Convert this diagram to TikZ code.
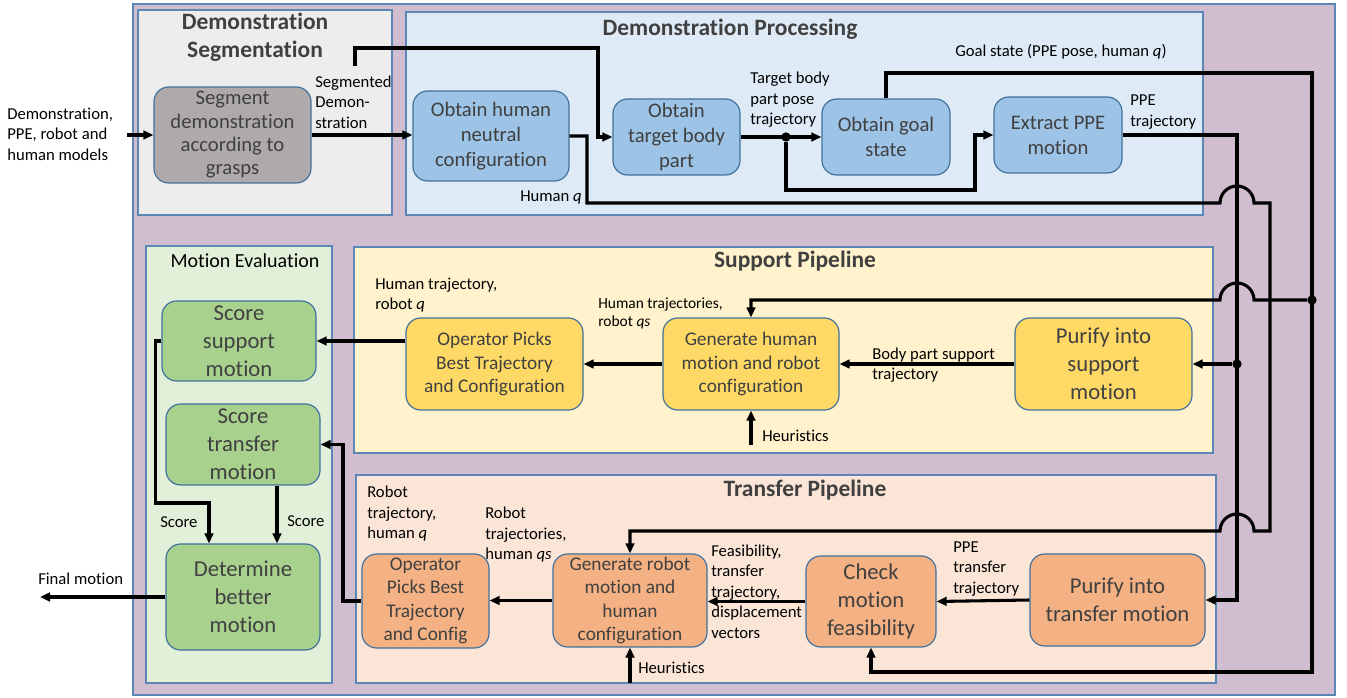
\documentclass[tikz,border=0pt]{standalone}
\usepackage{fontspec}
\setmainfont{Carlito}[RawFeature=-liga]
\usetikzlibrary{arrows.meta,calc}

\definecolor{outerfill}{HTML}{D0BED0}
\definecolor{panelline}{HTML}{5B86B5}
\definecolor{boxline}{HTML}{41719C}
\definecolor{txt}{HTML}{404040}
\definecolor{segpanel}{HTML}{EDEDED}
\definecolor{procpanel}{HTML}{DEEBF7}
\definecolor{evalpanel}{HTML}{E2F0D9}
\definecolor{suppanel}{HTML}{FFF2CC}
\definecolor{trapanel}{HTML}{FBE5D6}
\definecolor{graybox}{HTML}{AEAAAA}
\definecolor{bluebox}{HTML}{9DC3E6}
\definecolor{yellowbox}{HTML}{FFD966}
\definecolor{greenbox}{HTML}{A9D18E}
\definecolor{orangebox}{HTML}{F4B183}

\newcommand\txtM{\fontsize{15.5}{18.8}\selectfont}
\newcommand\txtSeg{\fontsize{15.5}{17.5}\selectfont}
\newcommand\txtL{\fontsize{17}{21}\selectfont}
\newcommand\txtS{\fontsize{14.5}{17.6}\selectfont}
\newcommand\txtLab{\fontsize{12.5}{15.4}\selectfont}
\newcommand\txtLabS{\fontsize{11.6}{13.5}\selectfont}
\newcommand\txtHead{\fontsize{15}{18}\selectfont}
\newcommand\txtTitle{\fontsize{17.6}{21}\selectfont\bfseries}

\begin{document}
\begin{tikzpicture}[x=0.75pt,y=-0.75pt,
  panel/.style={draw=panelline, line width=0.8pt},
  box/.style={rounded corners=11pt, draw=boxline, line width=0.9pt,
    align=center, inner sep=0pt, text=txt},
  sz/.style 2 args={minimum width=#1*0.75pt, minimum height=#2*0.75pt},
  wire/.style={line width=2.3pt},
  arr/.style={wire, -{Triangle[length=7.5pt,width=6.5pt]}},
  lab/.style={align=left, inner sep=0pt, font=\txtLab, anchor=west},
  title/.style={font=\txtTitle, text=txt, align=center, inner sep=0pt},
  junction/.style={circle, fill=black, inner sep=0pt, minimum size=7pt}]
\useasboundingbox (0,0) rectangle (1347,698);

% panels
\filldraw[panel, fill=outerfill] (133,4) rectangle (1335,695);
\filldraw[panel, fill=segpanel] (138,10) rectangle (392,215);
\filldraw[panel, fill=procpanel] (406,12) rectangle (1203,215);
\filldraw[panel, fill=evalpanel] (146,246) rectangle (332,683);
\filldraw[panel, fill=suppanel] (354,247) rectangle (1213,453);
\filldraw[panel, fill=trapanel] (356,475) rectangle (1216,683);

% panel titles
\node[title] at (255,37) {Demonstration\\Segmentation};
\node[title] at (730,29) {Demonstration Processing};
\node[title] at (795,261) {Support Pipeline};
\node[title] at (805,490) {Transfer Pipeline};
\node[font=\txtHead, text=black, inner sep=0pt] at (245,261) {Motion Evaluation};

% process blocks
\node[box, fill=graybox, sz={157}{96}, font=\txtSeg] (seg) at (232.5,135) {Segment\\demonstration\\according to\\grasps};
\node[box, fill=bluebox, sz={156}{90}, font=\txtM] (hn) at (491,136) {Obtain human\\neutral\\configuration};
\node[box, fill=bluebox, sz={127}{76}, font=\txtM] (tb) at (676.5,137) {Obtain\\target body\\part};
\node[box, fill=bluebox, sz={128}{76}, font=\txtM] (gs) at (886,137) {Obtain goal\\state};
\node[box, fill=bluebox, sz={128}{76}, font=\txtM] (ex) at (1058,135) {Extract PPE\\motion};

\node[box, fill=yellowbox, sz={177}{92}, font=\txtL] (ps) at (1103.5,364) {Purify into\\support\\motion};
\node[box, fill=yellowbox, sz={176}{92}, font=\txtS] (gh) at (751,364) {Generate human\\motion and robot\\configuration};
\node[box, fill=yellowbox, sz={177}{92}, font=\txtS] (op1) at (494.5,364) {Operator Picks\\Best Trajectory\\and Configuration};

\node[box, fill=greenbox, sz={154}{80}, font=\txtL] (ss) at (239,341) {Score\\support\\motion};
\node[box, fill=greenbox, sz={154}{81}, font=\txtL] (st) at (243,444.5) {Score\\transfer\\motion};
\node[box, fill=greenbox, sz={154}{106}, font=\txtL] (db) at (243,597) {Determine\\better\\motion};

\node[box, fill=orangebox, sz={175}{92}, font=\txtL] (pt) at (1117.5,600) {Purify into\\transfer motion};
\node[box, fill=orangebox, sz={130}{91}, font=\txtL] (cm) at (871,601.5) {Check\\motion\\feasibility};
\node[box, fill=orangebox, sz={154}{93}, font=\txtS] (gr) at (630,600.5) {Generate robot\\motion and\\human\\configuration};
\node[box, fill=orangebox, sz={127}{94}, font=\txtS] (op2) at (425.5,601) {Operator\\Picks Best\\Trajectory\\and Config};

% free ends and junctions
\coordinate (inp) at (127,135);
\coordinate (sdtap) at (355,66);
\coordinate (heur1) at (751,445);
\coordinate (heur2) at (630,683);
\coordinate (final) at (40,597);
\node[junction] (jt) at (786,137) {};
\node[junction] (jg) at (1312,300) {};
\node[junction] (jp) at (1237,364) {};

% demonstration processing
\draw[arr] (inp) -- (seg.west);
\draw[arr] (seg.east) -- (seg.east -| hn.west);
\draw[arr] (sdtap) |- (598,48) |- (tb.west);
\draw[arr] (tb.east) -- (gs.west);
\draw[arr] (jt) |- (975,190) |- (ex.west);

% goal state feed
\draw[arr] (gs.north) |- (1312,73) |- (871,672) -- (cm.south);
\draw[arr] (jg) -- (1254,300) arc[start angle=0,end angle=-180,radius=17] -| (gh.north);

% PPE trajectory feed
\draw[arr] (ex.east) -- (1237,135) |- (pt.east);
\draw[arr] (jp) -- (ps.east);

% human q feed
\draw[arr] (hn.east) -- (587,136) |- (1220,203)
  arc[start angle=180,end angle=360,radius=17] -- (1270,203) |- (1254,531)
  arc[start angle=0,end angle=-180,radius=17] -| (gr.north);

% support pipeline
\draw[arr] (ps.west) -- (gh.east);
\draw[arr] (heur1) -- (gh.south);
\draw[arr] (gh.west) -- (op1.east);
\draw[arr] (op1.west |- ss.east) -- (ss.east);

% motion evaluation
\draw[arr] (ss.west) -- ++(-6,0) |- (209,503) -- ([xshift=-25.5pt]db.north);
\draw[arr] ([xshift=25.5pt]st.south) -- ([xshift=25.5pt]db.north);
\draw[arr] (db.west) -- (final);

% transfer pipeline
\draw[arr] (pt.west) -- (cm.east);
\draw[arr] (cm.west) -- (cm.west -| gr.east);
\draw[arr] (gr.west) -- (gr.west -| op2.east);
\draw[arr] (heur2) -- (gr.south);
\draw[arr] (op2.west) -- (343,601) |- (st.east);

% labels
\node[lab] at (7,134) {Demonstration,\\PPE, robot and\\human models};
\node[lab] at (315,102) {Segmented\\Demon-\\stration};
\node[lab] at (750,100) {Target body\\part pose\\trajectory};
\node[lab] at (955,52) {Goal state (PPE pose, human \textit{q})};
\node[lab] at (1130,112) {PPE\\trajectory};
\node[lab] at (520,197) {Human \textit{q}};
\node[lab] at (375,295) {Human trajectory,\\robot \textit{q}};
\node[lab, font=\txtLabS] at (598,313) {Human trajectories,\\robot \textit{qs}};
\node[lab] at (872,365) {Body part support\\trajectory};
\node[lab] at (762,436) {Heuristics};
\node[lab] at (367,514) {Robot\\trajectory,\\human \textit{q}};
\node[lab] at (485,535) {Robot\\trajectories,\\human \textit{qs}};
\node[lab] at (711,591.5) {Feasibility,\\transfer\\trajectory,\\displacement\\vectors};
\node[lab] at (953,569) {PPE\\transfer\\trajectory};
\node[lab] at (638,668) {Heuristics};
\node[lab] at (160,522) {Score};
\node[lab] at (287,521) {Score};
\node[lab] at (38,579) {Final motion};
\end{tikzpicture}
\end{document}
